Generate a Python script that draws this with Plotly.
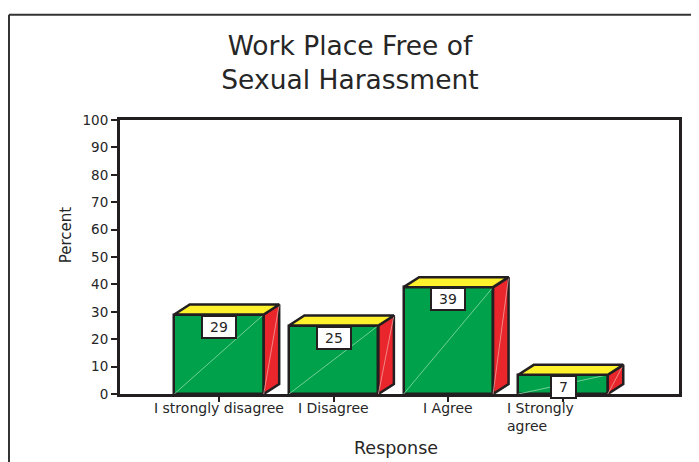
import plotly.graph_objects as go

# ---- data ----
categories = ["I strongly disagree", "I Disagree", "I Agree", "I Strongly<br>agree"]
percent = [29, 25, 39, 7]
y_ticks = [0, 10, 20, 30, 40, 50, 60, 70, 80, 90, 100]

# ---- style ----
GREEN = "#00A14B"
YELLOW = "#FFF22D"
RED = "#E8262B"
EDGE = "#231F20"
TXT = "#262626"
FONT = "DejaVu Sans"
BAR_W = 0.78
DX = 0.135   # 3D depth in x units
DY = 3.64    # 3D depth in y units
h = BAR_W / 2

# page body has an 8px margin, so the figure is sized to fit the window
FIG_W, FIG_H = 691, 454
OFF = 8

xs_idx = list(range(len(percent)))

fig = go.Figure()

# front faces
fig.add_trace(go.Bar(
    x=xs_idx, y=percent, width=BAR_W,
    marker=dict(color=GREEN, line=dict(color=EDGE, width=2.5)),
    hoverinfo="skip", showlegend=False))

# faint diagonals on front and side faces
dfx, dfy, dsx, dsy = [], [], [], []
for i, v in zip(xs_idx, percent):
    dfx += [i - h, i + h, None]
    dfy += [0, v, None]
    dsx += [i + h, i + h + DX, None]
    dsy += [0, v + DY, None]
fig.add_trace(go.Scatter(x=dfx, y=dfy, mode="lines",
                         line=dict(color="#8fdcae", width=0.8),
                         hoverinfo="skip", showlegend=False))

# side faces
sx, sy = [], []
for i, v in zip(xs_idx, percent):
    sx += [i + h, i + h + DX, i + h + DX, i + h, i + h, None]
    sy += [0, DY, v + DY, v, 0, None]
fig.add_trace(go.Scatter(x=sx, y=sy, mode="lines", fill="toself",
                         fillcolor=RED, line=dict(color=EDGE, width=2.5),
                         hoverinfo="skip", showlegend=False))
fig.add_trace(go.Scatter(x=dsx, y=dsy, mode="lines",
                         line=dict(color="#f5a0a0", width=0.8),
                         hoverinfo="skip", showlegend=False))

# top faces
tx, ty = [], []
for i, v in zip(xs_idx, percent):
    tx += [i - h, i - h + DX, i + h + DX, i + h, i - h, None]
    ty += [v, v + DY, v + DY, v, v, None]
fig.add_trace(go.Scatter(x=tx, y=ty, mode="lines", fill="toself",
                         fillcolor=YELLOW, line=dict(color=EDGE, width=2.5),
                         hoverinfo="skip", showlegend=False))

annotations = []
# value boxes
for i, v in zip(xs_idx, percent):
    s = str(v)
    annotations.append(dict(
        x=i, y=v, xref="x", yref="y", text=s, showarrow=False,
        xanchor="center", yanchor="top",
        font=dict(family=FONT, size=14, color=TXT),
        bgcolor="white", bordercolor=EDGE, borderwidth=2, borderpad=1,
        width=len(s) * 9 + 12, height=18))

# category labels
for i, lab in zip(xs_idx, categories):
    if "<br>" in lab:
        annotations.append(dict(
            x=i, y=0, xref="x", yref="paper", text=lab, showarrow=False,
            xanchor="left", yanchor="top", align="left", xshift=-58, yshift=-4,
            font=dict(family=FONT, size=14, color=TXT)))
    else:
        annotations.append(dict(
            x=i, y=0, xref="x", yref="paper", text=lab, showarrow=False,
            xanchor="center", yanchor="top", yshift=-4,
            font=dict(family=FONT, size=14, color=TXT)))

# axis titles
annotations.append(dict(x=-0.0966, y=0.579, xref="paper", yref="paper",
                        text="Percent", showarrow=False, textangle=-90,
                        xanchor="center", yanchor="middle",
                        font=dict(family=FONT, size=15, color=TXT)))
annotations.append(dict(x=0.493, y=-0.197, xref="paper", yref="paper",
                        text="Response", showarrow=False,
                        xanchor="center", yanchor="middle",
                        font=dict(family=FONT, size=17.5, color=TXT)))

# outer frame (left and top edges visible)
shapes = [
    dict(type="line", xref="paper", yref="paper", x0=-0.1986, x1=-0.1986,
         y0=-0.5, y1=1.384, line=dict(color="#333333", width=2)),
    dict(type="line", xref="paper", yref="paper", x0=-0.1986, x1=1.2,
         y0=1.384, y1=1.384, line=dict(color="#333333", width=2)),
]

fig.update_layout(
    width=FIG_W, height=FIG_H,
    margin=dict(l=112, r=20, t=112, b=68),
    paper_bgcolor="white", plot_bgcolor="white",
    title=dict(text="Work Place Free of<br>Sexual Harassment",
               x=(350 - OFF) / FIG_W, xref="container", xanchor="center",
               y=1 - (55 - OFF) / FIG_H, yref="container", yanchor="middle",
               font=dict(family=FONT, size=26.5, color=TXT)),
    xaxis=dict(range=[-0.863, 4.011], tickvals=xs_idx, showticklabels=False,
               ticks="outside", ticklen=5, tickwidth=2, tickcolor=EDGE,
               showline=True, linewidth=2.5, linecolor=EDGE, mirror=True,
               showgrid=False, zeroline=False, fixedrange=True),
    yaxis=dict(range=[0, 100], tickvals=y_ticks,
               ticks="outside", ticklen=6, tickwidth=2, tickcolor=EDGE,
               tickfont=dict(family=FONT, size=13.5, color=TXT),
               showline=True, linewidth=3, linecolor=EDGE, mirror=True,
               showgrid=False, zeroline=False, fixedrange=True),
    annotations=annotations, shapes=shapes,
    bargap=0, showlegend=False,
)

fig.write_html("out.html")
